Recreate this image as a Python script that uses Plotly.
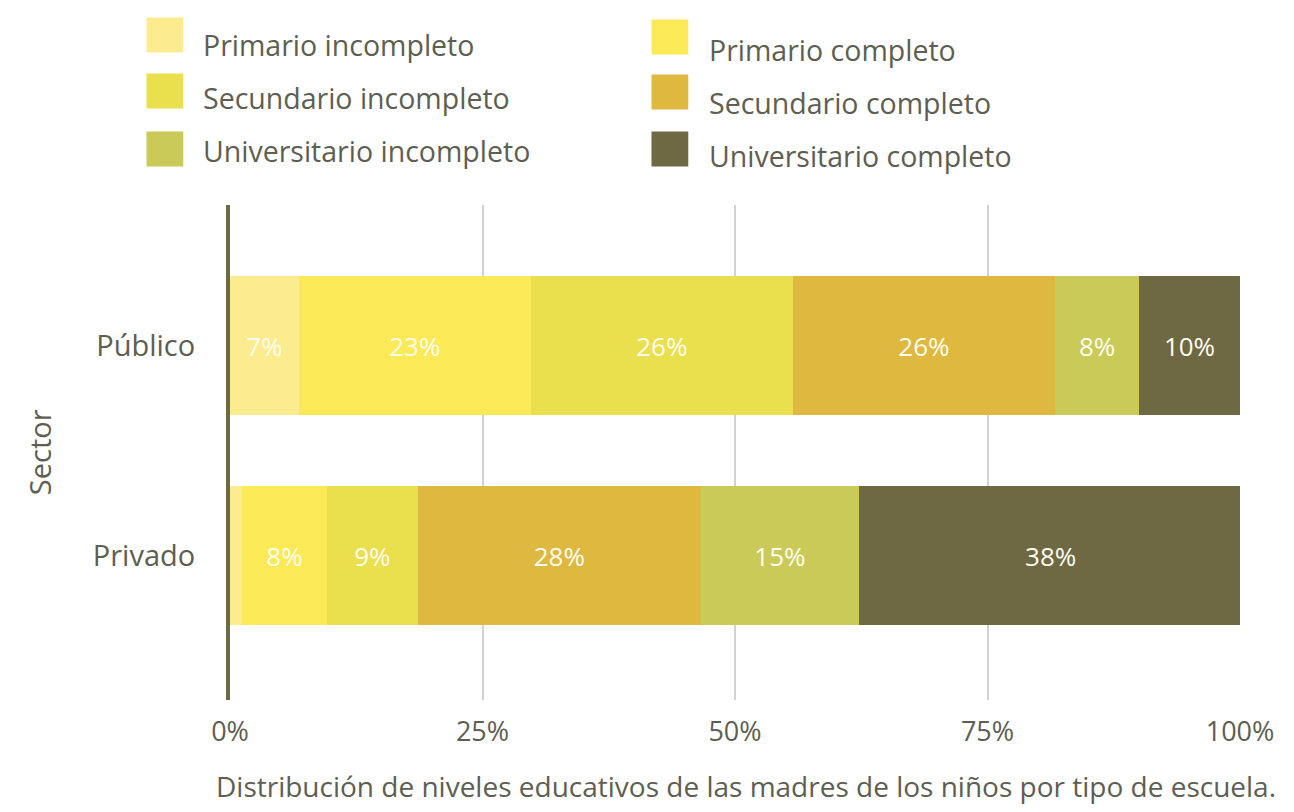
import plotly.graph_objects as go

# data
sectors = ["Privado", "Público"]
niveles = [
    "Primario incompleto",
    "Primario completo",
    "Secundario incompleto",
    "Secundario completo",
    "Universitario incompleto",
    "Universitario completo",
]
publico = [6.8, 23.0, 25.9, 26.0, 8.3, 10.0]
privado = [1.2, 8.4, 9.0, 28.0, 15.7, 37.9]
publico_labels = ["7%", "23%", "26%", "26%", "8%", "10%"]
privado_labels = ["", "8%", "9%", "28%", "15%", "38%"]
x_ticks = [0, 25, 50, 75, 100]
x_ticktext = ["0%", "25%", "50%", "75%", "100%"]

colors = ["#FDEB8F", "#FCE956", "#EADF4C", "#DFB83F", "#CACA58", "#6E6843"]
text_col = "#5e5e52"
FONT = "Open Sans"

# the page has an 8px body margin, so everything is placed in page pixels minus 8
W, H = 1278, 796
OFF = 8
L, R, T, B = 230 - OFF, 1246 - OFF, 205 - OFF, 700 - OFF
def px(x):
    return (x - OFF - L) / (R - L)
def py(y):
    return (B - (y - OFF)) / (B - T)

fig = go.Figure()
for i, name in enumerate(niveles):
    fig.add_trace(go.Bar(
        y=sectors,
        x=[privado[i], publico[i]],
        name=name,
        orientation="h",
        marker=dict(color=colors[i], line=dict(width=0)),
        text=[privado_labels[i], publico_labels[i]],
        textposition="inside",
        insidetextanchor="middle",
        textangle=0,
        textfont=dict(color="#fffdf0", size=26, family=FONT),
        width=0.66,
        showlegend=False,
    ))

fig.update_layout(
    barmode="stack",
    width=W, height=H,
    margin=dict(l=L, r=W - R, t=T, b=H - B),
    plot_bgcolor="white", paper_bgcolor="white",
    font=dict(family=FONT, color=text_col),
    uniformtext=dict(mode="show", minsize=10),
)
fig.update_xaxes(
    range=[0, 100], tickvals=x_ticks, ticktext=x_ticktext,
    showgrid=True, gridcolor="#d2d2d2", gridwidth=2,
    zeroline=False, showline=False, ticks="",
    tickfont=dict(size=27, color=text_col), ticklabelstandoff=13,
)
fig.update_yaxes(
    categoryorder="array", categoryarray=sectors,
    range=[-0.687, 1.67],
    showgrid=False, zeroline=False, ticks="",
    showline=True, linecolor="#6E6843", linewidth=4,
    tickfont=dict(size=29, color=text_col), ticklabelstandoff=25,
)

# legend: two columns of big swatches (page pixel positions)
sw_x = [146, 654]
txt_x = [201, 710]
sw_y = [[35, 91, 149], [37, 92, 149]]
txt_y = [[45, 98, 151], [50, 103, 156]]
for i, name in enumerate(niveles):
    col = i % 2
    row = i // 2
    cy = sw_y[col][row]
    fig.add_shape(type="rect", xref="paper", yref="paper",
                  x0=px(sw_x[col]), x1=px(sw_x[col] + 37),
                  y0=py(cy + 17.5), y1=py(cy - 17.5),
                  fillcolor=colors[i], line=dict(width=0))
    fig.add_annotation(xref="paper", yref="paper", x=px(txt_x[col]), y=py(txt_y[col][row]),
                       text=name, showarrow=False, xanchor="left", yanchor="middle",
                       font=dict(size=28.5, color=text_col, family=FONT))

fig.add_annotation(xref="paper", yref="paper", x=px(38), y=py(452), text="Sector",
                   textangle=-90, showarrow=False, xanchor="center", yanchor="middle",
                   font=dict(size=29, color=text_col, family=FONT))
fig.add_annotation(xref="paper", yref="paper", x=px(1284), y=py(786),
                   text="Distribución de niveles educativos de las madres de los niños por tipo de escuela.",
                   showarrow=False, xanchor="right", yanchor="middle",
                   font=dict(size=28, color=text_col, family=FONT))

fig.write_html("out.html")
